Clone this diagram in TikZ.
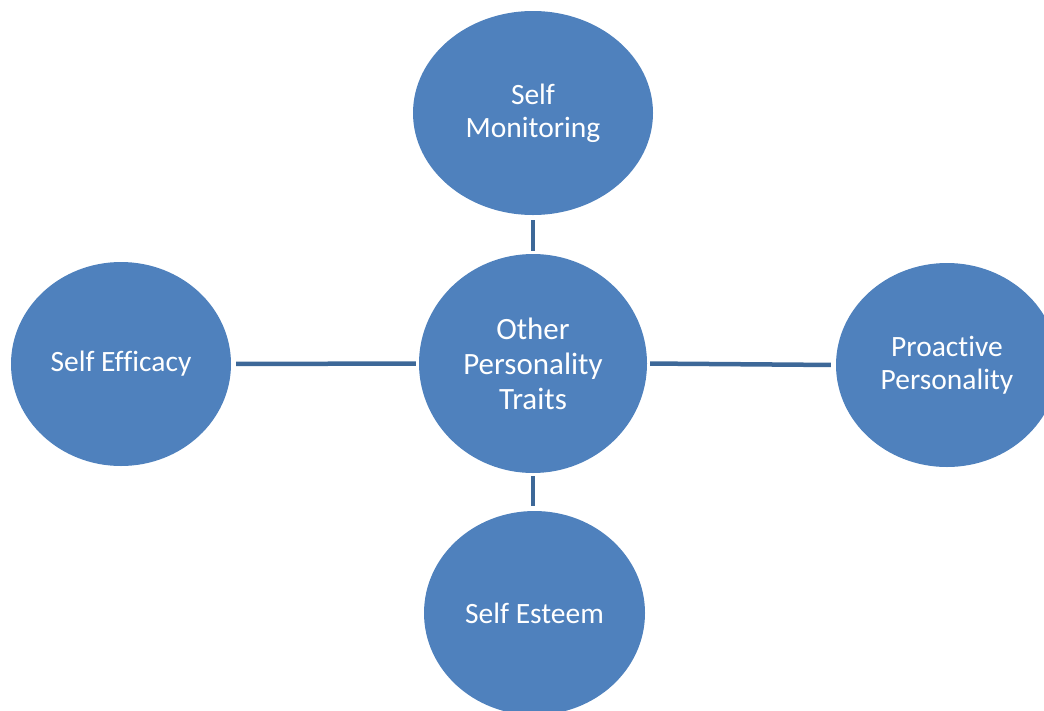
\documentclass[tikz,border=0pt]{standalone}
\usepackage{fontspec}
\setmainfont{Carlito}[Ligatures={NoCommon}]
\usepackage{xcolor}
\usetikzlibrary{shapes.geometric}
\definecolor{bubble}{HTML}{4F81BD}
\definecolor{spoke}{HTML}{3D6898}

\begin{document}
\begin{tikzpicture}[x=1pt,y=-1pt,
 trait/.style={ellipse,fill=bubble,text=white,align=center,inner sep=0pt,
  font=\fontsize{29.5}{33}\selectfont},
 spokeline/.style={draw=spoke,line width=4.5pt,shorten <=3pt,shorten >=5pt}]

 \clip (0,0) rectangle (1044,710);
 \def\w{220pt} \def\h{204pt}

 % hub
 \node[trait,minimum width=228pt,minimum height=219pt,font=\fontsize{31}{35}\selectfont]
  (core) at (533,363.5) {Other\\Personality\\Traits};

 % the four around it
 \node[trait,minimum width=240pt,minimum height=\h] (mon) at (533,113) {Self\\Monitoring};
 \node[trait,minimum width=\w,minimum height=\h] (eff) at (121,364) {Self Efficacy};
 \node[trait,minimum width=222pt,minimum height=\h] (pro) at (947,365) {Proactive\\Personality};
 \node[trait,minimum width=221pt,minimum height=\h] (est) at (534.5,613) {Self Esteem};

 \draw[spokeline] (core.north) -- (mon.south);
 \draw[spokeline] (core.west) -- (eff.east);
 \draw[spokeline] (core.east) -- (pro.west);
 \draw[spokeline] (core.south) -- (core.south |- est.north);

\end{tikzpicture}
\end{document}
